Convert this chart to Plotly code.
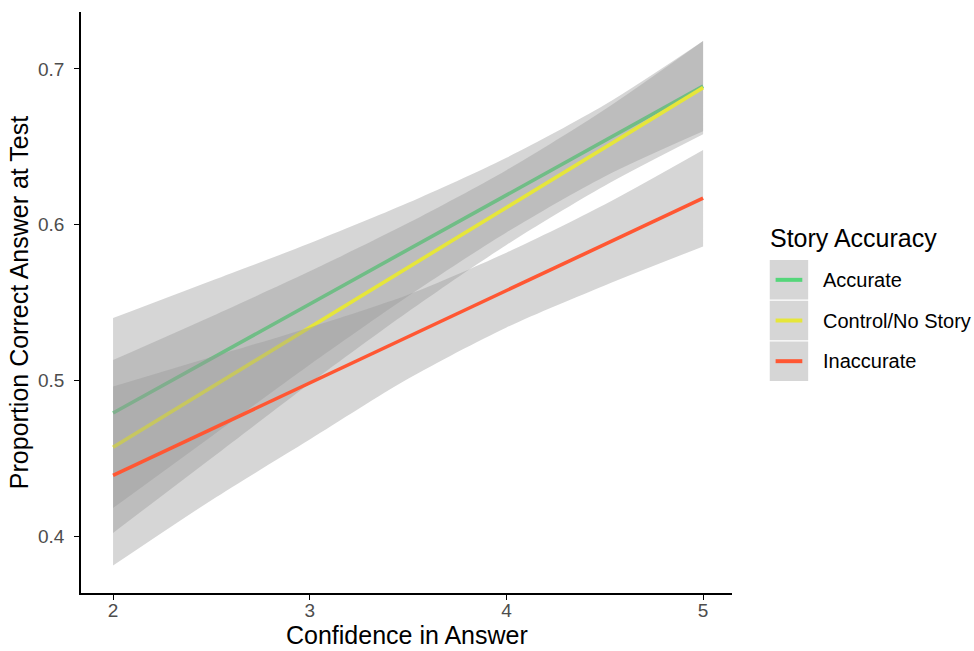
import plotly.graph_objects as go

# ---- data ----
groups = ["Accurate", "Control/No Story", "Inaccurate"]
colors = ["#55D67A", "#E6E63A", "#FF5733"]

line_x = [2, 5]
acc_line = [0.479, 0.689]
ctl_line = [0.457, 0.688]
ina_line = [0.439, 0.617]

band_x = [2, 2.5, 3, 3.5, 4, 4.5, 5]
acc_lo = [0.418, 0.464, 0.510, 0.554, 0.595, 0.631, 0.660]
acc_hi = [0.540, 0.564, 0.588, 0.614, 0.643, 0.677, 0.718]
ctl_lo = [0.402, 0.450, 0.498, 0.544, 0.587, 0.625, 0.658]
ctl_hi = [0.513, 0.541, 0.570, 0.601, 0.635, 0.674, 0.718]
ina_lo = [0.381, 0.423, 0.462, 0.501, 0.534, 0.561, 0.586]
ina_hi = [0.496, 0.515, 0.534, 0.555, 0.582, 0.613, 0.648]

x_ticks = [2, 3, 4, 5]
y_ticks = [0.4, 0.5, 0.6, 0.7]

lines = [acc_line, ctl_line, ina_line]
los = [acc_lo, ctl_lo, ina_lo]
his = [acc_hi, ctl_hi, ina_hi]

FONT = "Liberation Sans, Arial, Helvetica, sans-serif"
RIB = "rgba(153,153,153,0.4)"

fig = go.Figure()
for name, col, ln, lo, hi in zip(groups, colors, lines, los, his):
    fig.add_trace(go.Scatter(
        x=band_x, y=lo, mode="lines",
        line=dict(width=0, shape="spline", smoothing=0.8),
        hoverinfo="skip", showlegend=False))
    fig.add_trace(go.Scatter(
        x=band_x, y=hi, mode="lines", fill="tonexty", fillcolor=RIB,
        line=dict(width=0, shape="spline", smoothing=0.8),
        hoverinfo="skip", showlegend=False))
    fig.add_trace(go.Scatter(
        x=line_x, y=ln, mode="lines", name=name,
        line=dict(color=col, width=3.6), showlegend=False))

# custom ggplot-like legend
shapes = []
annotations = []
legend_x0, legend_x1 = 1.058, 1.117
row_tops = [0.573, 0.503, 0.433]
row_h = 0.068
for i, (name, col) in enumerate(zip(groups, colors)):
    top = row_tops[i]
    shapes.append(dict(type="rect", xref="paper", yref="paper",
                       x0=legend_x0, x1=legend_x1, y0=top - row_h, y1=top,
                       fillcolor="#D6D6D6", line=dict(width=0), layer="above"))
    yc = top - row_h / 2
    shapes.append(dict(type="line", xref="paper", yref="paper",
                       x0=legend_x0 + 0.009, x1=legend_x1 - 0.009, y0=yc, y1=yc,
                       line=dict(color=col, width=4), layer="above"))
    annotations.append(dict(text=name, xref="paper", yref="paper", x=1.137, y=yc,
                            xanchor="left", yanchor="middle", showarrow=False,
                            font=dict(family=FONT, size=20, color="#000000")))
annotations.append(dict(text="Story Accuracy", xref="paper", yref="paper", x=1.056, y=0.611,
                        xanchor="left", yanchor="middle", showarrow=False,
                        font=dict(family=FONT, size=25, color="#000000")))
annotations.append(dict(text="Confidence in Answer", xref="paper", yref="paper", x=0.5, y=-0.073,
                        xanchor="center", yanchor="middle", showarrow=False,
                        font=dict(family=FONT, size=25, color="#000000")))

fig.update_layout(
    width=974, height=651,
    margin=dict(l=81, r=242, t=12, b=58),
    paper_bgcolor="white", plot_bgcolor="white",
    font=dict(family=FONT),
    shapes=shapes, annotations=annotations,
    showlegend=False,
    xaxis=dict(range=[1.837, 5.147], tickvals=x_ticks, ticktext=[str(v) for v in x_ticks],
               automargin=False,
               showgrid=False, zeroline=False, showline=True, linecolor="black", linewidth=1.5,
               ticks="outside", ticklen=5, tickcolor="black", tickwidth=1.2,
               ticklabelstandoff=-6,
               tickfont=dict(size=19, color="#4D4D4D")),
    yaxis=dict(range=[0.3634, 0.7366], tickvals=y_ticks, ticktext=[f"{v:.1f}" for v in y_ticks],
               automargin=False,
               showgrid=False, zeroline=False, showline=True, linecolor="black", linewidth=1.5,
               ticks="outside", ticklen=5, tickcolor="black", tickwidth=1.2,
               ticklabelstandoff=6,
               tickfont=dict(size=19, color="#4D4D4D"),
               title=dict(text="Proportion Correct Answer at Test", font=dict(size=25, color="black"), standoff=2)),
)

fig.write_html("out.html")
